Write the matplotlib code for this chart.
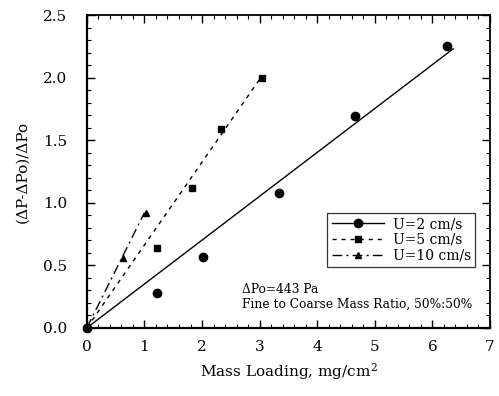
import matplotlib
matplotlib.use("Agg")
import matplotlib.pyplot as plt
from matplotlib.lines import Line2D
from matplotlib.ticker import MultipleLocator, FormatStrFormatter

# Data
x_u2 = [0.0, 1.21, 2.02, 3.33, 4.65, 6.25]
y_u2 = [0.0, 0.28, 0.565, 1.08, 1.69, 2.25]
x_u5 = [0.0, 1.21, 1.83, 2.33, 3.04]
y_u5 = [0.0, 0.64, 1.12, 1.59, 2.00]
x_u10 = [0.0, 0.62, 1.02]
y_u10 = [0.0, 0.56, 0.92]

# Fitted lines (end points)
fit_u2_x = [0.0, 6.36]
fit_u2_y = [0.0, 2.23]
fit_u5_x = [0.0, 3.02]
fit_u5_y = [0.0, 2.00]
fit_u10_x = [0.0, 1.0]
fit_u10_y = [0.0, 0.92]

labels = ["U=2 cm/s", "U=5 cm/s", "U=10 cm/s"]

plt.rcParams['font.family'] = ['DejaVu Serif']
plt.rcParams['mathtext.fontset'] = 'dejavuserif'

fig = plt.figure(figsize=(4.99, 3.96), dpi=100)
ax = fig.add_axes([0.174, 0.172, 0.808, 0.790])

ls_u5 = (0, (3, 3.5))
ls_u10 = (0, (7, 3, 1.5, 3))

ax.plot(fit_u2_x, fit_u2_y, color='black', lw=1.0, ls='-')
ax.plot(fit_u5_x, fit_u5_y, color='black', lw=1.0, ls=ls_u5)
ax.plot(fit_u10_x, fit_u10_y, color='black', lw=1.0, ls=ls_u10)

ax.plot(x_u2, y_u2, 'o', color='black', ms=6, ls='none', clip_on=False, zorder=5)
ax.plot(x_u5, y_u5, 's', color='black', ms=5, ls='none', clip_on=False, zorder=5)
ax.plot(x_u10, y_u10, '^', color='black', ms=5, ls='none', clip_on=False, zorder=5)

ax.set_xlim(0, 7)
ax.set_ylim(0, 2.5)
ax.xaxis.set_major_locator(MultipleLocator(1))
ax.xaxis.set_minor_locator(MultipleLocator(0.2))
ax.yaxis.set_major_locator(MultipleLocator(0.5))
ax.yaxis.set_minor_locator(MultipleLocator(0.1))
ax.yaxis.set_major_formatter(FormatStrFormatter('%.1f'))
ax.tick_params(which='both', direction='in', top=True, right=True, labelsize=11)
ax.tick_params(which='major', length=6, width=1)
ax.tick_params(which='minor', length=3, width=0.8)
ax.tick_params(axis='x', pad=9)
ax.tick_params(axis='y', pad=14)
for s in ax.spines.values():
    s.set_linewidth(1.3)
ax.spines['left'].set_linewidth(1.6)
ax.spines['bottom'].set_linewidth(1.6)

ax.set_xlabel("Mass Loading, mg/cm$^2$", fontsize=11, labelpad=5)
ax.set_ylabel("(ΔP-ΔPo)/ΔPo", fontsize=11, labelpad=10)

handles = [
    Line2D([], [], color='black', lw=1.0, ls='-', marker='o', ms=6),
    Line2D([], [], color='black', lw=1.0, ls=ls_u5, marker='s', ms=5),
    Line2D([], [], color='black', lw=1.0, ls=ls_u10, marker='^', ms=5),
]
leg = ax.legend(handles, labels, loc='upper right', bbox_to_anchor=(0.963, 0.367),
                fontsize=10, handlelength=3.8, frameon=True, fancybox=False,
                borderaxespad=0, labelspacing=0.12, borderpad=0.3, handletextpad=0.6)
leg.get_frame().set_edgecolor('black')
leg.get_frame().set_linewidth(0.9)

ax.text(2.69, 0.36, "ΔPo=443 Pa\nFine to Coarse Mass Ratio, 50%:50%", fontsize=8.8,
        ha='left', va='top', linespacing=1.15)

fig.savefig("out.png", dpi=100)
